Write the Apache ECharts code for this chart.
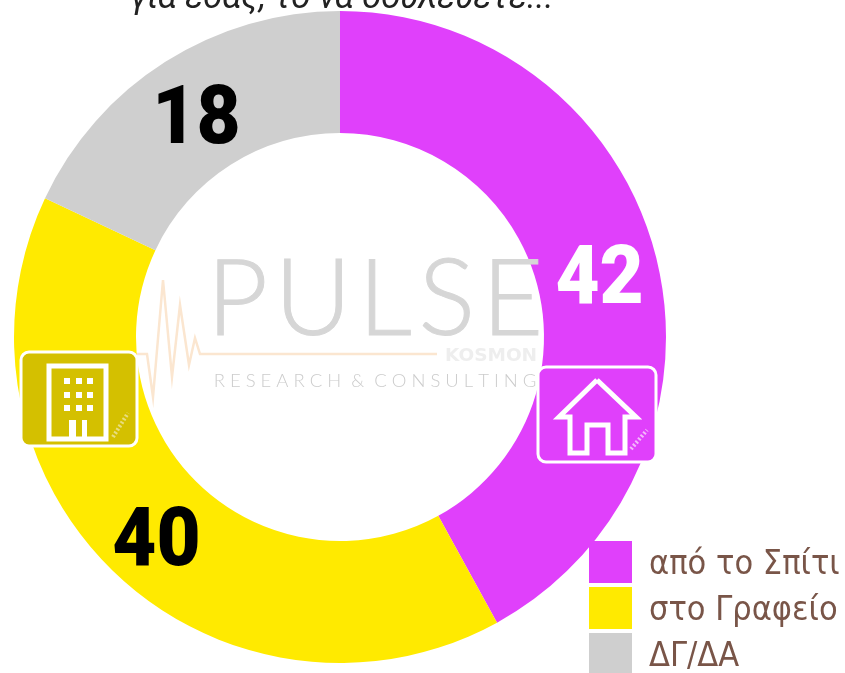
<!DOCTYPE html>
<html>
<head>
<meta charset="utf-8">
<style>html,body{margin:0;padding:0;background:#fff}#main{width:845px;height:673px}</style>
<script src="https://cdn.jsdelivr.net/npm/echarts@6/dist/echarts.min.js"></script>
</head>
<body>
<div id="main"></div>
<script>
var categories = ['από το Σπίτι', 'στο Γραφείο', 'ΔΓ/ΔΑ'];
var values = [42, 40, 18];
var colors = ['#e040fb', '#ffea00', '#cfcfcf'];
var labelColors = ['#fff', '#000', '#000'];
var titleText = 'για εσάς, το να δουλεύετε...';

var chart = echarts.init(document.getElementById('main'));

var pieData = [];
for (var i = 0; i < categories.length; i++) {
    pieData.push({
        name: categories[i],
        value: values[i],
        itemStyle: {color: colors[i]},
        label: {color: labelColors[i]}
    });
}

// logo and icons on top of the ring
var graphics = [
    {type: 'text', z: 5, style: {x: 342, y: 17, text: titleText, fill: '#222', align: 'center', verticalAlign: 'bottom',
        font: 'italic 34.5px Roboto'}},
    {type: 'text', z: 5, style: {x: 375, y: 301, text: 'P\u200aU\u200aL\u200aS\u200aE', fill: '#d6d6d6', stroke: '#d6d6d6', lineWidth: 1, align: 'center', verticalAlign: 'middle',
        font: '300 106px Lato'}},
    {type: 'polyline', z: 5, shape: {points: [[137,354],[147,354],[153,397],[163,280],[172,377],[180,305],[189,365],[195,338],[200,354],[437,354]]},
        style: {stroke: '#fbe6d0', lineWidth: 2.5, fill: null}},
    {type: 'text', z: 5, style: {x: 491, y: 356, text: 'KOSMON', fill: '#eeeeee', align: 'center', verticalAlign: 'middle',
        font: 'bold 18.5px "DejaVu Sans"'}},
    {type: 'text', z: 5, style: {x: 375, y: 381, text: 'R E S E A R C H  &  C O N S U L T I N G', fill: '#cccccc', align: 'center', verticalAlign: 'middle',
        font: '300 18.5px Lato'}},

    // house box
    {type: 'rect', z: 6, shape: {x: 538, y: 367, width: 118, height: 95, r: 8}, style: {fill: '#e040fb', stroke: '#fff', lineWidth: 3}},
    {type: 'polyline', z: 7, shape: {points: [[597,380],[559,417],[570,417],[570,453],[587,453],[587,425],[608,425],[608,453],[625,453],[625,417],[636,417],[597,380]]},
        style: {stroke: '#fff', lineWidth: 5, fill: null}},
    {type: 'line', z: 7, shape: {x1: 631, y1: 449, x2: 647, y2: 430}, style: {stroke: '#f4b8fb', lineWidth: 4, lineDash: [2, 2]}},

    // office box
    {type: 'rect', z: 6, shape: {x: 21, y: 352, width: 116, height: 94, r: 8}, style: {fill: '#d4c000', stroke: '#fff', lineWidth: 3}},
    {type: 'rect', z: 7, shape: {x: 49, y: 366, width: 57, height: 73}, style: {fill: 'transparent', stroke: '#fff', lineWidth: 5}},
    {type: 'line', z: 7, shape: {x1: 113, y1: 437, x2: 128, y2: 413}, style: {stroke: '#e8dd80', lineWidth: 4, lineDash: [2, 2]}}
];

var winX = [64, 76, 87], winY = [378, 392, 405];
winX.forEach(function (x) {
    winY.forEach(function (y) {
        graphics.push({type: 'rect', z: 7, shape: {x: x, y: y, width: 6, height: 6}, style: {fill: '#fff'}});
    });
});
[[69, 7], [82, 5]].forEach(function (d) {
    graphics.push({type: 'rect', z: 7, shape: {x: d[0], y: 420, width: d[1], height: 18}, style: {fill: '#fff'}});
});

var option = {
    backgroundColor: '#fff',
    animation: false,
    legend: {
        orient: 'vertical',
        left: 589,
        top: 541,
        height: 150,
        padding: 0,
        icon: 'rect',
        itemWidth: 43,
        itemHeight: 42,
        itemGap: 4,
        data: categories,
        selectedMode: false,
        formatter: '{t|{name}}',
        textStyle: {
            rich: {
                t: {color: '#795548', fontSize: 34, fontFamily: '"DejaVu Sans Condensed", "DejaVu Sans"', padding: [7, 0, 0, 12]}
            }
        }
    },
    graphic: graphics,
    series: [
        {
            type: 'pie',
            center: [340, 337],
            radius: [204, 326],
            startAngle: 90,
            clockwise: true,
            silent: true,
            label: {
                show: true,
                position: 'inside',
                formatter: '{c}',
                fontFamily: 'Roboto',
                fontWeight: 900,
                fontSize: 82
            },
            labelLine: {show: false},
            data: pieData
        }
    ]
};
chart.setOption(option);

// the numbers in the reference are a narrow face, squeeze the pie labels and drop them onto the ring middle
var pieItems = chart.getModel().getSeriesByIndex(0).getData();
pieItems.each(function (idx) {
    var txt = pieItems.getItemGraphicEl(idx).getTextContent();
    txt.scaleX = 0.93;
    txt.y += 12;
    txt.markRedraw();
});
chart.getZr().refreshImmediately();
</script>
</body>
</html>
